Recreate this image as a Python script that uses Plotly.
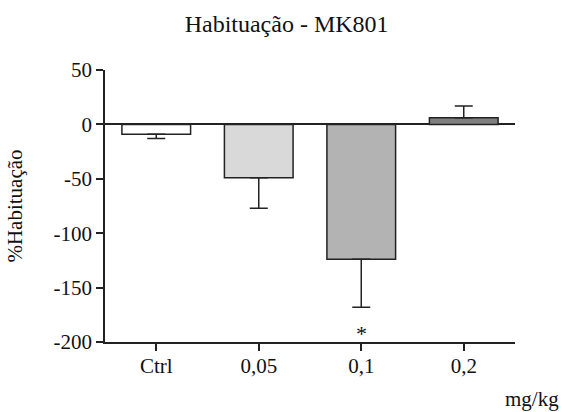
import plotly.graph_objects as go

categories = ["Ctrl", "0,05", "0,1", "0,2"]
values = [-9, -49, -124, 6]
err_up = [0, 0, 0, 11]
err_down = [4, 28, 44, 0]
colors = ["#ffffff", "#d9d9d9", "#b3b3b3", "#808080"]
y_ticks = [50, 0, -50, -100, -150, -200]

FONT = "Liberation Serif"
INK = "#222222"

fig = go.Figure()
fig.add_trace(go.Bar(
    x=categories, y=values,
    marker=dict(color=colors, line=dict(color=INK, width=1.5)),
    error_y=dict(type="data", symmetric=False, array=err_up, arrayminus=err_down,
                 color=INK, thickness=1.5, width=9),
))

fig.add_annotation(x="0,1", y=-192, text="*", showarrow=False,
                   font=dict(family=FONT, size=22, color="#111"))
fig.add_annotation(x=1.0, xref="paper", xanchor="right", xshift=46,
                   y=0, yref="paper", yanchor="top", yshift=-43,
                   text="mg/kg", showarrow=False,
                   font=dict(family=FONT, size=21, color="#111"))

fig.update_layout(
    width=562, height=412,
    margin=dict(l=105, r=47, t=70, b=70),
    paper_bgcolor="white", plot_bgcolor="white",
    font=dict(family=FONT, size=21, color="#111"),
    title=dict(text="Habituação - MK801", x=0.51, xanchor="center", y=0.962, yanchor="top",
               font=dict(family=FONT, size=24, color="#111")),
    bargap=0.33,
    showlegend=False,
    xaxis=dict(range=[-0.5, 3.5], showline=True, linecolor=INK, linewidth=1.5,
               ticks="outside", ticklen=7, tickcolor=INK, tickwidth=1.5,
               ticklabelstandoff=-3,
               showgrid=False, zeroline=False, tickfont=dict(family=FONT, size=21)),
    yaxis=dict(range=[-200, 50], tickvals=y_ticks, ticktext=[str(v) for v in y_ticks],
               showline=True, linecolor=INK, linewidth=1.5,
               ticks="outside", ticklen=7, tickcolor=INK, tickwidth=1.5,
               showgrid=False, zeroline=True, zerolinecolor=INK, zerolinewidth=1.5,
               tickfont=dict(family=FONT, size=21),
               title=dict(text="%Habituação", font=dict(family=FONT, size=21), standoff=25)),
)

fig.write_html("out.html")
